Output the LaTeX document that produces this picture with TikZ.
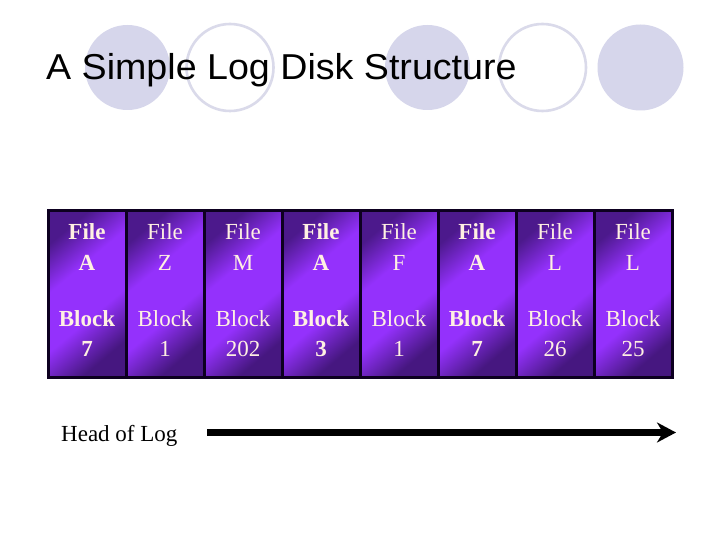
\documentclass[tikz,border=0pt]{standalone}
\usepackage{fontspec}
\setmainfont{Liberation Serif}
\newfontfamily\titlefont{Liberation Sans}
\usetikzlibrary{arrows.meta}
\definecolor{lav}{HTML}{D6D6EB}
\definecolor{lavline}{HTML}{DADAEA}
\definecolor{boxedge}{HTML}{0D0020}
\definecolor{purpdark}{HTML}{4C198C}
\definecolor{purpdarkb}{HTML}{461780}
\definecolor{purpbright}{HTML}{9431FC}
\definecolor{cream}{HTML}{FFF0E2}
\pgfdeclareverticalshading{logshade}{100bp}{color(0bp)=(purpdarkb); color(26bp)=(purpdarkb);
  color(42bp)=(purpbright); color(60bp)=(purpbright); color(75bp)=(purpdark); color(100bp)=(purpdark)}
\begin{document}
\begin{tikzpicture}[x=1pt,y=-1pt,
  bgfill/.style={fill=lav, draw=none},
  bgring/.style={draw=lavline, line width=2.6pt, fill=none},
  logbox/.style={draw=boxedge, line width=3pt, minimum width=78pt, minimum height=166pt,
    inner sep=0pt, shading=logshade, shading angle=40},
  celltext/.style={text=cream, anchor=base, inner sep=0pt},
  wt b/.style={font=\fontsize{23}{23}\selectfont\bfseries},
  wt n/.style={font=\fontsize{23}{23}\selectfont},
  logarrow/.style={line width=7pt, -{Stealth[length=19pt,width=20pt,inset=6pt]}}
]
\useasboundingbox (0,0) rectangle (720,540);
\fill[white] (0,0) rectangle (720,540);
% background circles
\fill[bgfill] (127.5,67.5) circle (42.5pt);
\draw[bgring] (230,67.5) circle (43.5pt);
\fill[bgfill] (427.5,67.5) circle (42.5pt);
\draw[bgring] (542.5,67.5) circle (43.5pt);
\fill[bgfill] (640.5,67.5) circle (43pt);
% title
\node[anchor=base west, inner sep=0pt, font=\titlefont\fontsize{36}{36}\selectfont] (title) at (46,80)
  {\scalebox{1.045}[1]{A Simple Log Disk Structure}};
% log blocks
\foreach [count=\i] \fname/\blk/\wt in {A/7/b, Z/1/n, M/202/n, A/3/b, F/1/n, A/7/b, L/26/n, L/25/n} {
  \pgfmathsetmacro\cx{87+78*(\i-1)}
  \node[logbox] (box\i) at (\cx,294) {};
  \node[celltext, wt \wt] (file\i) at ([yshift=54pt]box\i.center) {File};
  \node[celltext, wt \wt] (name\i) at ([yshift=24pt]box\i.center) {\fname};
  \node[celltext, wt \wt] (block\i) at ([yshift=-32pt]box\i.center) {Block};
  \node[celltext, wt \wt] (num\i) at ([yshift=-62pt]box\i.center) {\blk};
}
% head of log
\node[anchor=base west, inner sep=0pt, font=\fontsize{23}{23}\selectfont] (head) at (61,441) {Head of Log};
\coordinate (logstart) at (207,432.5);
\coordinate (logend) at (676,432.5);
\draw[logarrow] (logstart) -- (logend);
\end{tikzpicture}
\end{document}
